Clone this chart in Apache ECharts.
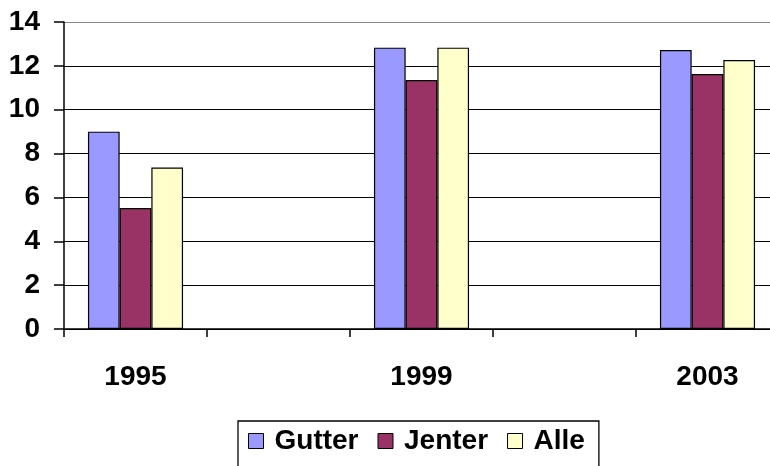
<!DOCTYPE html>
<html><head><meta charset="utf-8">
<script src="https://cdn.jsdelivr.net/npm/echarts@6/dist/echarts.min.js"></script>
<style>html,body{margin:0;padding:0;background:#fff;overflow:hidden}#c{width:790px;height:466px}</style>
</head><body><div id="c"></div>
<script>
var categories = ['1995','1997','1999','2001','2003'];
var shownLabels = ['1995','1999','2003'];
var gutter = [9.0, null, 12.83, null, 12.72];
var jenter = [5.52, null, 11.35, null, 11.63];
var alle   = [7.36, null, 12.83, null, 12.27];
var seriesNames = ['Gutter','Jenter','Alle'];
var colors = ['#9999FF','#993366','#FFFFCC'];

var font = 'Liberation Sans, Arial, sans-serif';
var chart = echarts.init(document.getElementById('c'), null, {renderer:'canvas'});
function mk(name, data, color){
  return {name:name, type:'bar', data:data, barGap:'0%', barCategoryGap:'33.5%',
    itemStyle:{color:color, borderColor:'#000', borderWidth:1.2}};
}
chart.setOption({
  animation:false,
  grid:{left:64, top:22, width:715, height:307, containLabel:false},
  legend:{left:238, top:421, padding:[6,14,20,10], borderColor:'#000', borderWidth:1.3,
    itemWidth:15, itemHeight:15, itemGap:19, icon:'rect',
    textStyle:{fontFamily:font, fontWeight:'bold', fontSize:28, color:'#000', padding:[0,0,0,6]},
    data:seriesNames.map(function(n){return {name:n, itemStyle:{borderColor:'#000', borderWidth:1}};})},
  xAxis:{type:'category', data:categories,
    axisLine:{lineStyle:{color:'#000', width:1.5}},
    axisTick:{show:true, length:8, lineStyle:{color:'#000', width:1.5}},
    axisLabel:{margin:34, fontFamily:font, fontWeight:'bold', fontSize:28, color:'#000',
      formatter:function(v){return shownLabels.indexOf(v)>=0 ? v : '';}, interval:0}},
  yAxis:{type:'value', min:0, max:14, interval:2,
    axisLine:{show:true, lineStyle:{color:'#000', width:1.5}},
    axisTick:{show:true, length:10, lineStyle:{color:'#000', width:1.5}},
    axisLabel:{margin:24, fontFamily:font, fontWeight:'bold', fontSize:28, color:'#000'},
    splitLine:{lineStyle:{color:['#000','#000','#000','#000','#000','#000','#000','#888'], width:1.2}}},
  series:[mk(seriesNames[0],gutter,colors[0]), mk(seriesNames[1],jenter,colors[1]), mk(seriesNames[2],alle,colors[2])]
});
</script></body></html>
